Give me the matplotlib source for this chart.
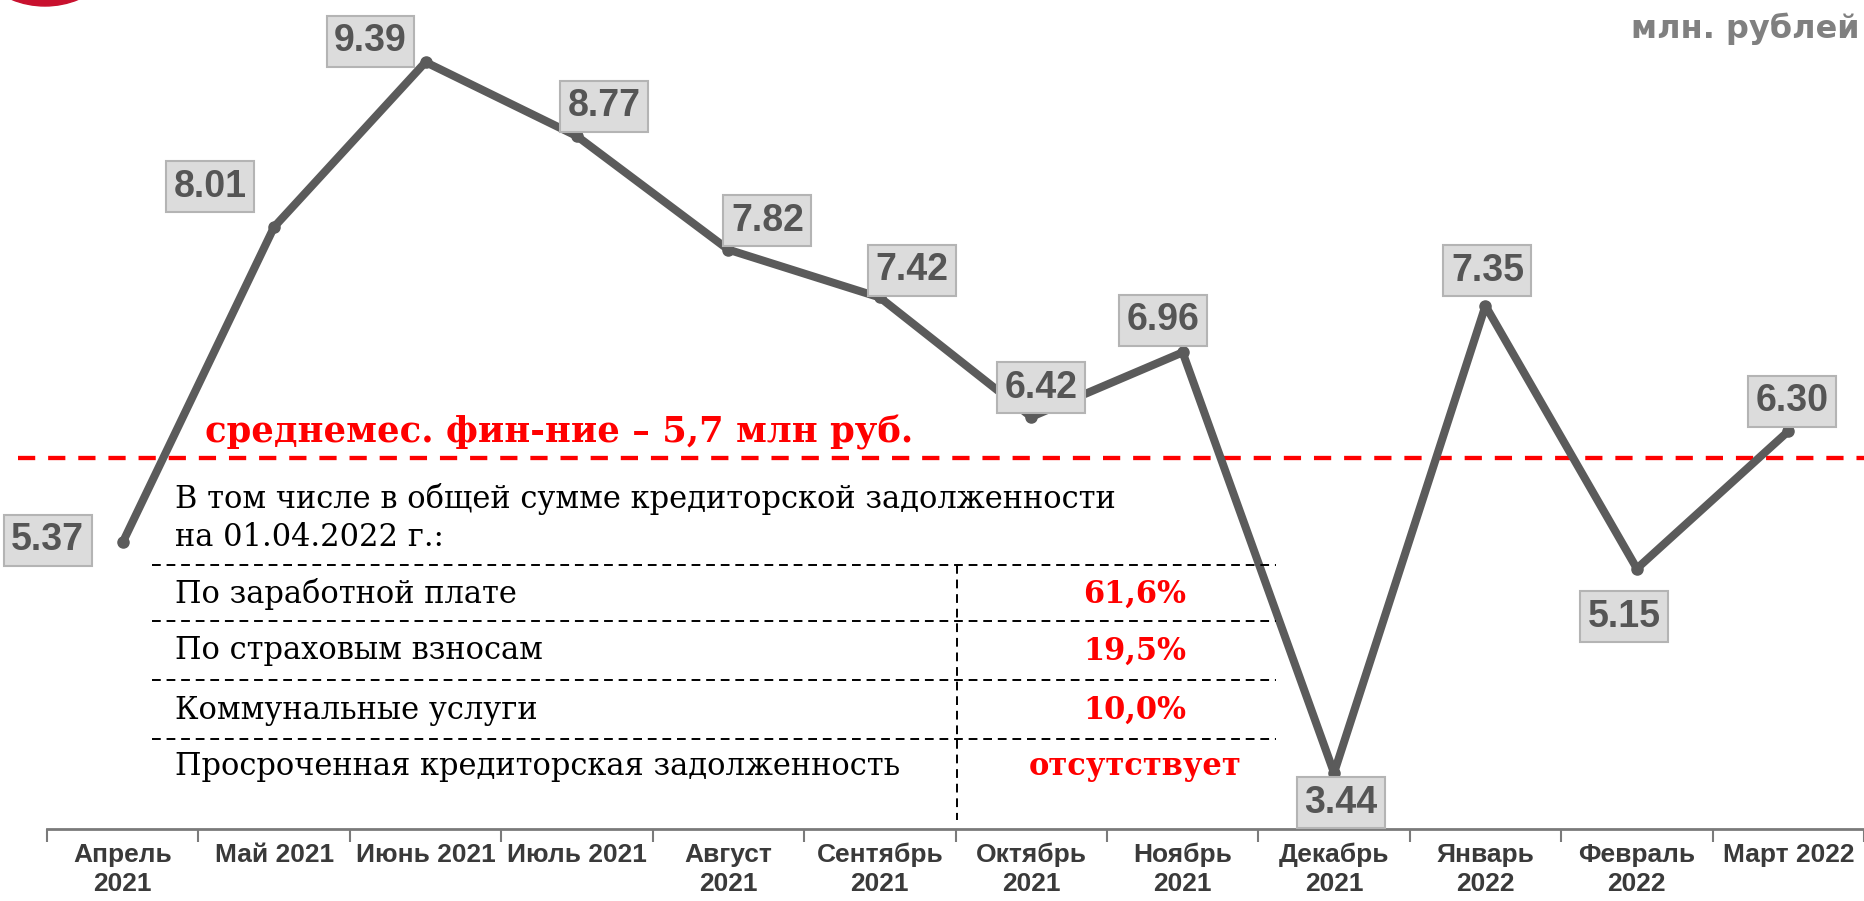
import matplotlib
matplotlib.use("Agg")
import matplotlib.pyplot as plt
from matplotlib.lines import Line2D
from matplotlib.patches import Ellipse

# data
months = ["Апрель\n2021", "Май 2021", "Июнь 2021", "Июль 2021", "Август\n2021",
          "Сентябрь\n2021", "Октябрь\n2021", "Ноябрь\n2021", "Декабрь\n2021",
          "Январь\n2022", "Февраль\n2022", "Март 2022"]
financing = [5.37, 8.01, 9.39, 8.77, 7.82, 7.42, 6.42, 6.96, 3.44, 7.35, 5.15, 6.30]
avg_line = 6.08
avg_text = "среднемес. фин-ние – 5,7 млн руб."
unit_text = "млн. рублей"
table_title = ["В том числе в общей сумме кредиторской задолженности",
               "на 01.04.2022 г.:"]
table_rows = ["По заработной плате", "По страховым взносам",
              "Коммунальные услуги", "Просроченная кредиторская задолженность"]
table_values = ["61,6%", "19,5%", "10,0%", "отсутствует"]

# label offsets in pixels (dx, dy) relative to each point
label_offsets = [(-75, 2), (-64, 40), (-55, 21), (27, 30), (39, 29), (32, 27),
                 (10, 29), (-20, 32), (7, -30), (2, 35), (-13, -48), (4, 30)]

W, H = 1864, 901
fig = plt.figure(figsize=(W / 100, H / 100), dpi=100)


def fx(px):
    return px / W


def fy(py):
    return 1 - py / H


ax = fig.add_axes([fx(47), fy(829), 1 - fx(47), 829 / H])
ax.set_xlim(-0.5, 11.5)
ax.set_ylim(2.97, 9.91)

x = list(range(len(financing)))
ax.plot(x, financing, color="#5b5b5b", lw=5.8, solid_joinstyle="round",
        solid_capstyle="round", marker="o", ms=8, zorder=3)

for xi, val, (dx, dy) in zip(x, financing, label_offsets):
    ax.annotate(f"{val:.2f}", (xi, val), xytext=(dx, dy), textcoords="offset pixels",
                ha="center", va="center", fontsize=27, fontweight="bold",
                family="Liberation Sans", color="#555555", zorder=5,
                bbox=dict(boxstyle="square,pad=0.2", fc="#dcdcdc", ec="#b4b4b4", lw=1.5))

# average line
ax.plot([-0.69, 11.5], [avg_line, avg_line], color="#ff0000", lw=3.1,
        dashes=(4, 3), clip_on=False, zorder=2)

for s in ["top", "right", "left"]:
    ax.spines[s].set_visible(False)
ax.spines["bottom"].set_color("#7a7a7a")
ax.spines["bottom"].set_linewidth(2)
ax.set_yticks([])
ax.set_xticks(x)
ax.set_xticklabels(months, fontsize=19, fontweight="bold", family="Liberation Sans",
                   color="#3a3a3a", linespacing=1.25)
ax.tick_params(axis="x", which="major", length=0, pad=10)
ax.set_xticks([i - 0.5 for i in range(len(financing) + 1)], minor=True)
ax.tick_params(axis="x", which="minor", length=9, width=1.5, color="#7a7a7a")

# avg text
fig.text(fx(205), fy(432), avg_text, color="#ff0000", fontsize=25.5, fontweight="bold",
         family="DejaVu Serif", va="center", ha="left")

# unit label, top right
fig.text(fx(1860), fy(29), unit_text, color="#808080", fontsize=23, fontweight="bold",
         family="DejaVu Sans", va="center", ha="right")

# logo circle, mostly off the top
fig.patches.append(Ellipse((fx(45), fy(-82)), 176 / W, 176 / H, color="#c8102e",
                           transform=fig.transFigure, figure=fig))

# table
fig.text(fx(175), fy(499), table_title[0], fontsize=22, family="DejaVu Serif",
         va="center", ha="left", color="black")
fig.text(fx(175), fy(537), table_title[1], fontsize=22, family="DejaVu Serif",
         va="center", ha="left", color="black")
for ly in [565, 621, 680, 739]:
    fig.add_artist(Line2D([fx(152), fx(1276)], [fy(ly), fy(ly)], color="black",
                          lw=1.4, dashes=(4.5, 3), transform=fig.transFigure))
fig.add_artist(Line2D([fx(957), fx(957)], [fy(565), fy(820)], color="black",
                      lw=1.4, dashes=(4.5, 3), transform=fig.transFigure))
row_y = [594, 651, 710, 767]
for ry, name, val in zip(row_y, table_rows, table_values):
    fig.text(fx(175), fy(ry), name, fontsize=22, family="DejaVu Serif",
             va="center", ha="left", color="black")
    fig.text(fx(1135), fy(ry), val, fontsize=22, fontweight="bold",
             family="DejaVu Serif", va="center", ha="center", color="#ff0000")

fig.savefig("out.png", dpi=100)
